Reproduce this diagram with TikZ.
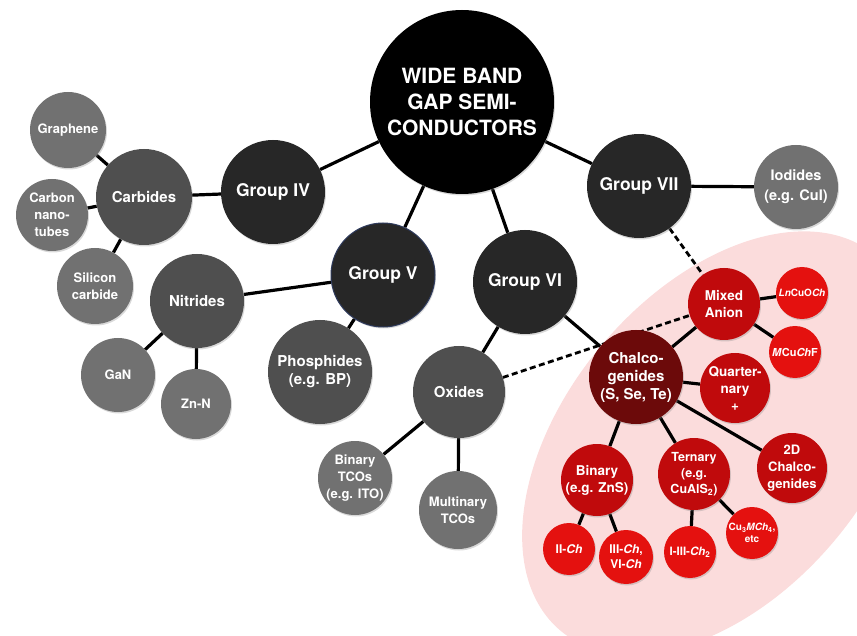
\documentclass[tikz,border=0pt]{standalone}
\usepackage{fontspec}
\setsansfont{TeX Gyre Heros}
\usepackage{tikz}
\usetikzlibrary{positioning,shadows,backgrounds}
\usepackage{xcolor}
\definecolor{grpgray}{HTML}{272727}
\definecolor{subgray}{HTML}{4F4F4F}
\definecolor{leafgray}{HTML}{717171}
\definecolor{chalred}{HTML}{6C0A0A}
\definecolor{midred}{HTML}{C00A0C}
\definecolor{leafred}{HTML}{E4110F}
\definecolor{blush}{HTML}{FBDCDC}
\definecolor{navyrim}{HTML}{2E3A5C}

\begin{document}
\begin{tikzpicture}[x=1pt, y=-1pt,
  bub/.style={circle, inner sep=0pt, text=white, align=center,
    drop shadow={shadow xshift=1pt, shadow yshift=-1.5pt, opacity=.3}},
  top/.style={bub, fill=black, minimum size=184pt,
    font=\sffamily\bfseries\fontsize{21}{26}\selectfont},
  grp/.style={bub, fill=grpgray, minimum size=104pt,
    font=\sffamily\bfseries\fontsize{17.5}{21}\selectfont},
  sub/.style={bub, fill=subgray, minimum size=96pt,
    font=\sffamily\bfseries\fontsize{15}{18}\selectfont},
  leaf/.style={bub, fill=leafgray, minimum size=74pt,
    font=\sffamily\bfseries\fontsize{13}{17}\selectfont},
  chal/.style={bub, fill=chalred, minimum size=94pt,
    font=\sffamily\bfseries\fontsize{15}{18}\selectfont},
  rsub/.style={bub, fill=midred, minimum size=72pt,
    font=\sffamily\bfseries\fontsize{13.5}{17}\selectfont},
  rleaf/.style={bub, fill=leafred, minimum size=52pt,
    font=\sffamily\bfseries\fontsize{12}{15}\selectfont},
  link/.style={line width=3.2pt},
  dlink/.style={line width=2.8pt, dash pattern=on 6pt off 3.5pt}]
\useasboundingbox (0,0) rectangle (857,636);

% the top node and the four groups
\node[top] (W) at (462,102) {WIDE BAND\\GAP SEMI-\\CONDUCTORS};
\node[grp] (G4) at ([shift={(-189,90)}]W.center) {Group IV};
\node[grp, draw=navyrim, line width=1pt] (G5) at ([shift={(-79,173)}]W.center) {Group V};
\node[grp] (G6) at ([shift={(63,180)}]W.center) {Group VI};
\node[grp] (G7) at ([shift={(177,84)}]W.center) {Group VII};

% group IV
\node[sub] (Carb) at ([shift={(-129,5)}]G4.center) {Carbides};
\node[leaf, minimum size=76pt] (Gra) at ([shift={(-76,-67)}]Carb.center) {Graphene};
\node[leaf, minimum size=72pt] (CNT) at ([shift={(-92,18)}]Carb.center) {Carbon\\nano-\\tubes};
\node[leaf, minimum size=76pt] (SiC) at ([shift={(-49,89)}]Carb.center) {Silicon\\carbide};

% group V
\node[sub, minimum size=94pt] (Nit) at ([shift={(-186,26)}]G5.center) {Nitrides};
\node[leaf] (GaN) at ([shift={(-79,74)}]Nit.center) {GaN};
\node[leaf, minimum size=70pt] (ZnN) at ([shift={(-1,103)}]Nit.center) {Zn-N};
\node[sub, minimum size=104pt] (Phos) at ([shift={(-63,97)}]G5.center) {Phosphides\\(e.g. BP)};

% group VI
\node[sub, minimum size=92pt] (Ox) at ([shift={(-66,110)}]G6.center) {Oxides};
\node[leaf] (BTCO) at ([shift={(-104,86)}]Ox.center) {Binary\\TCOs\\(e.g. ITO)};
\node[leaf, minimum size=78pt] (MTCO) at ([shift={(-1,118)}]Ox.center) {Multinary\\TCOs};

% group VII
\node[leaf, minimum size=84pt, font=\sffamily\bfseries\fontsize{14.5}{20}\selectfont]
  (Iod) at ([shift={(157,1)}]G7.center) {Iodides\\(e.g. CuI)};

% chalcogenide family
\node[chal] (Chal) at ([shift={(111,95)}]G6.center) {Chalco-\\genides\\(S, Se, Te)};
\node[rsub] (Mix) at ([shift={(88,-73)}]Chal.center) {Mixed\\Anion};
\node[rleaf, font=\sffamily\bfseries\fontsize{10}{12}\selectfont]
  (LnCu) at ([shift={(78,-11)}]Mix.center) {\textit{Ln}CuO\textit{Ch}};
\node[rleaf, font=\sffamily\bfseries\fontsize{11}{13}\selectfont]
  (MCu) at ([shift={(71,48)}]Mix.center) {\textit{M}Cu\textit{Ch}F};
\node[rsub, minimum size=70pt] (Quat) at ([shift={(99,11)}]Chal.center) {Quarter-\\nary\\+};
\node[rsub, minimum size=70pt, font=\sffamily\bfseries\fontsize{13}{17}\selectfont]
  (TwoD) at ([shift={(156,91)}]Chal.center) {2D\\Chalco-\\genides};
\node[rsub] (Bin) at ([shift={(-39,103)}]Chal.center) {Binary\\(e.g. ZnS)};
\node[rsub, font=\sffamily\bfseries\fontsize{12.5}{16}\selectfont]
  (Tern) at ([shift={(58,97)}]Chal.center) {Ternary\\(e.g.\\CuAlS\textsubscript{2})};
\node[rleaf] (IICh) at ([shift={(-28,69)}]Bin.center) {II-\textit{Ch}};
\node[rleaf, minimum size=54pt] (IIICh) at ([shift={(29,77)}]Bin.center) {III-\textit{Ch},\\VI-\textit{Ch}};
\node[rleaf, font=\sffamily\bfseries\fontsize{11.5}{13}\selectfont]
  (IIICh2) at ([shift={(-4,78)}]Tern.center) {I-III-\textit{Ch}\textsubscript{2}};
\node[rleaf, font=\sffamily\bfseries\fontsize{10}{12}\selectfont]
  (Cu3) at ([shift={(58,59)}]Tern.center) {Cu\textsubscript{3}\textit{MCh}\textsubscript{4},\\etc};

\begin{scope}[on background layer]
  % pink patch behind the chalcogenides
  \fill[blush, rotate around={50:(718,443)}] (718,443) ellipse [x radius=245, y radius=152];
  \draw[link] (W) -- (G4);
  \draw[link] (W) -- (G5);
  \draw[link] (W) -- (G6);
  \draw[link] (W) -- (G7);
  \draw[link] (G4) -- (Carb);
  \draw[link] (Carb) -- (Gra);
  \draw[link] (Carb) -- (CNT);
  \draw[link] (Carb) -- (SiC);
  \draw[link] (G5) -- (Nit);
  \draw[link] (Nit) -- (GaN);
  \draw[link] (Nit) -- (ZnN);
  \draw[link] (G5) -- (Phos);
  \draw[link] (G6) -- (Ox);
  \draw[link] (Ox) -- (BTCO);
  \draw[link] (Ox) -- (MTCO);
  \draw[link] (G7) -- (Iod);
  \draw[link] (G6) -- (Chal);
  \draw[link] (Chal) -- (Mix);
  \draw[link] (Mix) -- (LnCu);
  \draw[link] (Mix) -- (MCu);
  \draw[link] (Chal) -- (Quat);
  \draw[link] (Chal) -- (TwoD);
  \draw[link] (Chal) -- (Bin);
  \draw[link] (Chal) -- (Tern);
  \draw[link] (Bin) -- (IICh);
  \draw[link] (Bin) -- (IIICh);
  \draw[link] (Tern) -- (IIICh2);
  \draw[link] (Tern) -- (Cu3);
  \draw[dlink] (G7) -- (Mix);
  \draw[dlink] (Ox) -- (Mix);
\end{scope}
\end{tikzpicture}
\end{document}
